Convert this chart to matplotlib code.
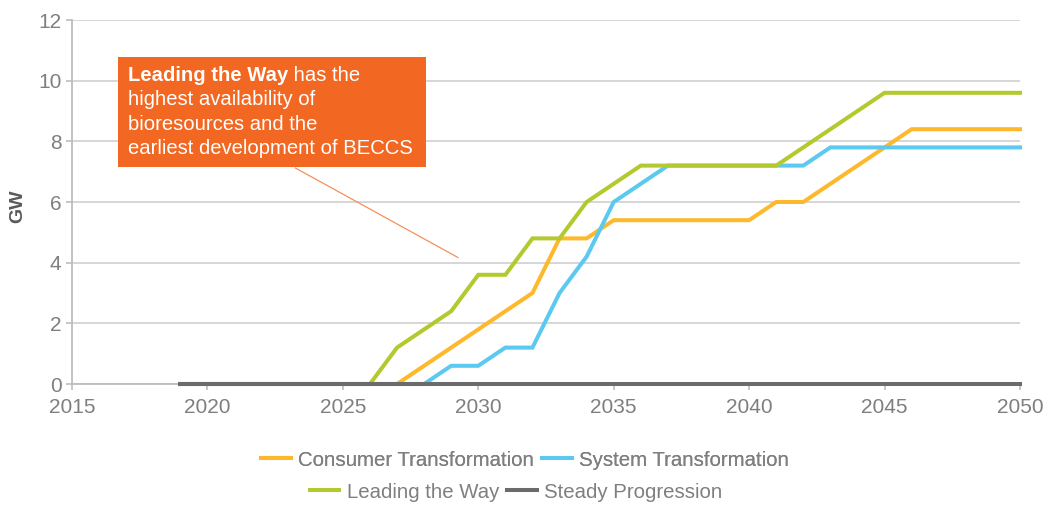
import matplotlib
matplotlib.use("Agg")
import matplotlib.pyplot as plt
from matplotlib.patches import Rectangle

plt.rcParams["font.family"] = ["Liberation Sans", "DejaVu Sans"]

years = list(range(2019, 2051))

consumer = [0, 0, 0, 0, 0, 0, 0, 0, 0, 0.6, 1.2, 1.8, 2.4, 3.0, 4.8, 4.8,
            5.4, 5.4, 5.4, 5.4, 5.4, 5.4, 6.0, 6.0, 6.6, 7.2, 7.8, 8.4,
            8.4, 8.4, 8.4, 8.4]
system = [0, 0, 0, 0, 0, 0, 0, 0, 0, 0, 0.6, 0.6, 1.2, 1.2, 3.0, 4.2,
          6.0, 6.6, 7.2, 7.2, 7.2, 7.2, 7.2, 7.2, 7.8, 7.8, 7.8, 7.8,
          7.8, 7.8, 7.8, 7.8]
leading = [0, 0, 0, 0, 0, 0, 0, 0, 1.2, 1.8, 2.4, 3.6, 3.6, 4.8, 4.8, 6.0,
           6.6, 7.2, 7.2, 7.2, 7.2, 7.2, 7.2, 7.8, 8.4, 9.0, 9.6, 9.6,
           9.6, 9.6, 9.6, 9.6]
steady = [0] * len(years)

series = [
    ("Consumer Transformation", consumer, "#FDB92B"),
    ("System Transformation", system, "#5CC9F0"),
    ("Leading the Way", leading, "#B3C92E"),
    ("Steady Progression", steady, "#6B6B6B"),
]

grey_text = "#7F7F7F"
fig = plt.figure(figsize=(10.46, 5.05), dpi=100)
ax = fig.add_axes([72 / 1046, 1 - 384 / 505, (1020 - 72) / 1046, (384 - 20) / 505])

handles = []
for i, (name, vals, col) in enumerate(series):
    h, = ax.plot(years, vals, color=col, lw=2.9, label=name,
                 solid_joinstyle="miter", zorder=3 + i * 0.1, clip_on=False)
    handles.append(h)

ax.set_xlim(2015, 2050)
ax.set_ylim(0, 12)
ax.set_xticks(range(2015, 2051, 5))
ax.set_yticks(range(0, 13, 2))
ax.grid(axis="y", color="#D3D3D3", lw=1.3)
ax.set_axisbelow(True)
for s in ["top", "right"]:
    ax.spines[s].set_visible(False)
for s in ["left", "bottom"]:
    ax.spines[s].set_color("#BDBDBD")
    ax.spines[s].set_linewidth(1.3)
ax.tick_params(colors="#BDBDBD", labelcolor=grey_text, labelsize=15,
               length=4, width=1.2)
ax.tick_params(axis="x", pad=6)
fig.text(18 / 1046, 1 - 206 / 505, "GW", rotation=90, fontsize=14,
         fontweight="bold", color="#5A5A5A", ha="center", va="center")

# annotation box
box_x0, box_x1 = 2016.7, 2028.07
box_y0, box_y1 = 7.15, 10.78
ax.add_patch(Rectangle((box_x0, box_y0), box_x1 - box_x0, box_y1 - box_y0,
                       facecolor="#F26722", edgecolor="none", zorder=4))
ax.plot([2023.25, 2029.25], [7.12, 4.17], color="#F4915A", lw=0.9, zorder=4)

tx = 2017.05
line_y = [10.0, 9.19, 8.38, 7.57]
fs = 14.6
t1 = ax.text(tx, line_y[0], "Leading the Way", color="white", fontsize=fs,
             fontweight="bold", va="baseline", zorder=5)
fig.canvas.draw()
ax.annotate(" has the", xy=(1, 0), xycoords=t1, va="bottom", ha="left",
            color="white", fontsize=fs, zorder=5)
for txt, yy in zip(["highest availability of", "bioresources and the",
                    "earliest development of BECCS"], line_y[1:]):
    ax.text(tx, yy, txt, color="white", fontsize=fs, va="baseline", zorder=5)

leg_kw = dict(frameon=False, ncol=2, fontsize=14.7, handlelength=1.45,
              handletextpad=0.35, columnspacing=0.4, labelcolor=grey_text,
              loc="center", borderpad=0, borderaxespad=0)
leg1 = fig.legend(handles=handles[:2], bbox_to_anchor=(525 / 1046, 1 - 460 / 505),
                  **leg_kw)
fig.legend(handles=handles[2:], bbox_to_anchor=(516 / 1046, 1 - 492 / 505),
           **leg_kw)
fig.add_artist(leg1)

fig.savefig("out.png", dpi=100)
